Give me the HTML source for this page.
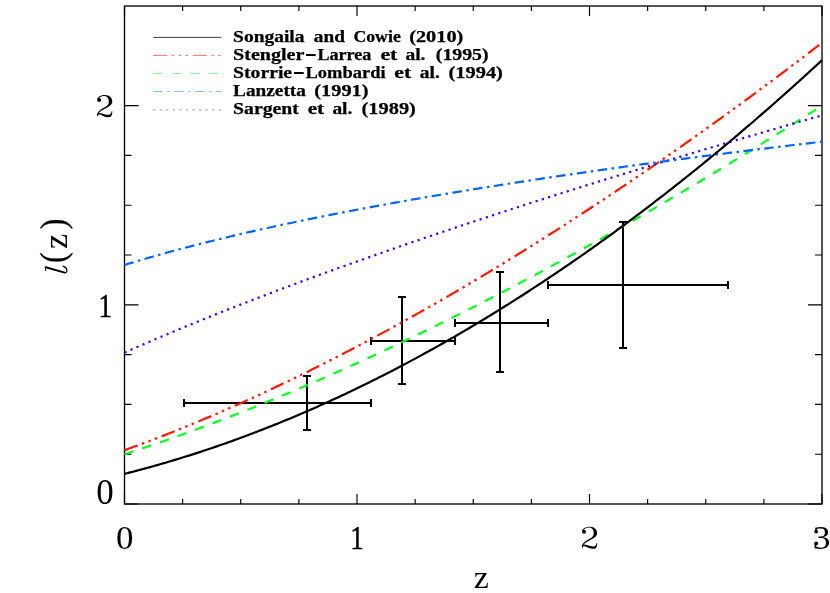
<!DOCTYPE html>
<html><head><meta charset="utf-8"><title>l(z)</title>
<style>html,body{margin:0;padding:0;background:#fff;}body{width:830px;height:593px;position:relative;overflow:hidden;font-family:"Liberation Serif",serif;}</style>
</head><body>
<svg width="830" height="593" viewBox="0 0 830 593" style="position:absolute;left:0;top:0;will-change:transform">
<rect width="830" height="593" fill="#fff"/>
<g stroke="#000" stroke-width="1.15" fill="none">
<path d="M124.50 504.00v-10.0 M124.50 6.00v10.0"/>
<path d="M182.62 504.00v-5.0 M182.62 6.00v5.0"/>
<path d="M240.75 504.00v-5.0 M240.75 6.00v5.0"/>
<path d="M298.88 504.00v-5.0 M298.88 6.00v5.0"/>
<path d="M357.00 504.00v-10.0 M357.00 6.00v10.0"/>
<path d="M415.12 504.00v-5.0 M415.12 6.00v5.0"/>
<path d="M473.25 504.00v-5.0 M473.25 6.00v5.0"/>
<path d="M531.38 504.00v-5.0 M531.38 6.00v5.0"/>
<path d="M589.50 504.00v-10.0 M589.50 6.00v10.0"/>
<path d="M647.62 504.00v-5.0 M647.62 6.00v5.0"/>
<path d="M705.75 504.00v-5.0 M705.75 6.00v5.0"/>
<path d="M763.88 504.00v-5.0 M763.88 6.00v5.0"/>
<path d="M822.00 504.00v-10.0 M822.00 6.00v10.0"/>
<path d="M124.50 504.00h14.0 M822.00 504.00h-14.0"/>
<path d="M124.50 454.20h7.0 M822.00 454.20h-7.0"/>
<path d="M124.50 404.40h7.0 M822.00 404.40h-7.0"/>
<path d="M124.50 354.60h7.0 M822.00 354.60h-7.0"/>
<path d="M124.50 304.80h14.0 M822.00 304.80h-14.0"/>
<path d="M124.50 255.00h7.0 M822.00 255.00h-7.0"/>
<path d="M124.50 205.20h7.0 M822.00 205.20h-7.0"/>
<path d="M124.50 155.40h7.0 M822.00 155.40h-7.0"/>
<path d="M124.50 105.60h14.0 M822.00 105.60h-14.0"/>
</g>
<rect x="124.50" y="6.00" width="697.50" height="498.00" fill="none" stroke="#000" stroke-width="1.33"/>
<g stroke="#000" stroke-width="2" fill="none">
<path d="M184.0 403.0H371.0 M307.0 376.0V430.0 M184.0 399.0v8 M371.0 399.0v8 M303.0 376.0h8 M303.0 430.0h8"/>
<path d="M371.0 341.0H455.0 M402.0 297.0V384.0 M371.0 337.0v8 M455.0 337.0v8 M398.0 297.0h8 M398.0 384.0h8"/>
<path d="M455.0 323.0H548.0 M500.0 272.0V372.0 M455.0 319.0v8 M548.0 319.0v8 M496.0 272.0h8 M496.0 372.0h8"/>
<path d="M548.0 285.0H728.0 M623.0 222.0V348.0 M548.0 281.0v8 M728.0 281.0v8 M619.0 222.0h8 M619.0 348.0h8"/>
</g>
<g fill="none" stroke-width="2.2">
<polyline stroke="#ff1800" stroke-dasharray="14 4.5 2.5 4.4 2.5 4.4 2.5 4.87" points="124.50,450.22 126.83,449.38 129.15,448.54 131.47,447.69 133.80,446.84 136.12,445.99 138.45,445.13 140.78,444.27 143.10,443.40 145.43,442.53 147.75,441.65 150.07,440.77 152.40,439.89 154.72,439.00 157.05,438.10 159.38,437.21 161.70,436.30 164.03,435.40 166.35,434.49 168.68,433.57 171.00,432.65 173.32,431.73 175.65,430.80 177.97,429.87 180.30,428.93 182.62,427.99 184.95,427.05 187.28,426.10 189.60,425.15 191.93,424.19 194.25,423.23 196.57,422.26 198.90,421.29 201.23,420.32 203.55,419.34 205.88,418.36 208.20,417.38 210.52,416.39 212.85,415.39 215.18,414.40 217.50,413.40 219.82,412.39 222.15,411.38 224.48,410.37 226.80,409.35 229.12,408.33 231.45,407.31 233.77,406.28 236.10,405.25 238.43,404.21 240.75,403.17 243.07,402.13 245.40,401.08 247.73,400.03 250.05,398.97 252.38,397.91 254.70,396.85 257.02,395.78 259.35,394.71 261.67,393.64 264.00,392.56 266.32,391.48 268.65,390.39 270.98,389.31 273.30,388.21 275.62,387.12 277.95,386.02 280.27,384.91 282.60,383.81 284.92,382.70 287.25,381.58 289.57,380.46 291.90,379.34 294.23,378.22 296.55,377.09 298.88,375.96 301.20,374.82 303.52,373.68 305.85,372.54 308.17,371.39 310.50,370.24 312.83,369.09 315.15,367.93 317.48,366.77 319.80,365.60 322.12,364.44 324.45,363.27 326.77,362.09 329.10,360.91 331.42,359.73 333.75,358.55 336.08,357.36 338.40,356.17 340.73,354.97 343.05,353.77 345.38,352.57 347.70,351.37 350.02,350.16 352.35,348.95 354.67,347.73 357.00,346.51 359.33,345.29 361.65,344.06 363.98,342.83 366.30,341.60 368.62,340.37 370.95,339.13 373.27,337.89 375.60,336.64 377.93,335.39 380.25,334.14 382.57,332.88 384.90,331.63 387.22,330.36 389.55,329.10 391.87,327.83 394.20,326.56 396.52,325.28 398.85,324.00 401.18,322.72 403.50,321.44 405.82,320.15 408.15,318.86 410.47,317.57 412.80,316.27 415.12,314.97 417.45,313.66 419.78,312.36 422.10,311.05 424.43,309.73 426.75,308.42 429.07,307.10 431.40,305.77 433.73,304.45 436.05,303.12 438.38,301.79 440.70,300.45 443.03,299.11 445.35,297.77 447.68,296.43 450.00,295.08 452.32,293.73 454.65,292.38 456.97,291.02 459.30,289.66 461.62,288.29 463.95,286.93 466.28,285.56 468.60,284.19 470.93,282.81 473.25,281.43 475.57,280.05 477.90,278.67 480.22,277.28 482.55,275.89 484.88,274.50 487.20,273.10 489.53,271.70 491.85,270.30 494.18,268.89 496.50,267.48 498.83,266.07 501.15,264.66 503.47,263.24 505.80,261.82 508.12,260.40 510.45,258.97 512.78,257.54 515.10,256.11 517.42,254.67 519.75,253.23 522.08,251.79 524.40,250.35 526.72,248.90 529.05,247.45 531.38,246.00 533.70,244.54 536.03,243.09 538.35,241.62 540.67,240.16 543.00,238.69 545.33,237.22 547.65,235.75 549.97,234.27 552.30,232.80 554.62,231.31 556.95,229.83 559.28,228.34 561.60,226.85 563.92,225.36 566.25,223.86 568.58,222.36 570.90,220.86 573.22,219.36 575.55,217.85 577.88,216.34 580.20,214.83 582.53,213.31 584.85,211.79 587.17,210.27 589.50,208.75 591.83,207.22 594.15,205.69 596.47,204.16 598.80,202.63 601.12,201.09 603.45,199.55 605.77,198.00 608.10,196.46 610.42,194.91 612.75,193.36 615.08,191.80 617.40,190.24 619.72,188.68 622.05,187.12 624.38,185.55 626.70,183.99 629.03,182.42 631.35,180.84 633.67,179.27 636.00,177.69 638.32,176.10 640.65,174.52 642.98,172.93 645.30,171.34 647.62,169.75 649.95,168.15 652.27,166.56 654.60,164.95 656.93,163.35 659.25,161.75 661.58,160.14 663.90,158.52 666.23,156.91 668.55,155.29 670.88,153.67 673.20,152.05 675.52,150.43 677.85,148.80 680.18,147.17 682.50,145.54 684.83,143.90 687.15,142.26 689.48,140.62 691.80,138.98 694.13,137.33 696.45,135.68 698.77,134.03 701.10,132.38 703.43,130.72 705.75,129.06 708.07,127.40 710.40,125.74 712.73,124.07 715.05,122.40 717.37,120.73 719.70,119.05 722.02,117.38 724.35,115.70 726.67,114.01 729.00,112.33 731.32,110.64 733.65,108.95 735.98,107.26 738.30,105.56 740.62,103.86 742.95,102.16 745.27,100.46 747.60,98.76 749.92,97.05 752.25,95.34 754.57,93.62 756.90,91.91 759.23,90.19 761.55,88.47 763.88,86.74 766.20,85.02 768.52,83.29 770.85,81.56 773.18,79.83 775.50,78.09 777.83,76.35 780.15,74.61 782.48,72.87 784.80,71.12 787.12,69.37 789.45,67.62 791.77,65.87 794.10,64.11 796.43,62.35 798.75,60.59 801.08,58.83 803.40,57.06 805.73,55.29 808.05,53.52 810.38,51.75 812.70,49.97 815.03,48.20 817.35,46.41 819.68,44.63 822.00,42.85"/>
<polyline stroke="#00ff20" stroke-dasharray="9.4 9.27" points="124.50,454.20 126.83,453.45 129.15,452.70 131.47,451.94 133.80,451.18 136.12,450.42 138.45,449.65 140.78,448.88 143.10,448.11 145.43,447.33 147.75,446.55 150.07,445.76 152.40,444.97 154.72,444.18 157.05,443.38 159.38,442.58 161.70,441.78 164.03,440.98 166.35,440.17 168.68,439.35 171.00,438.54 173.32,437.72 175.65,436.89 177.97,436.07 180.30,435.24 182.62,434.40 184.95,433.57 187.28,432.73 189.60,431.88 191.93,431.04 194.25,430.19 196.57,429.33 198.90,428.48 201.23,427.62 203.55,426.75 205.88,425.89 208.20,425.02 210.52,424.14 212.85,423.27 215.18,422.39 217.50,421.51 219.82,420.62 222.15,419.73 224.48,418.84 226.80,417.95 229.12,417.05 231.45,416.15 233.77,415.24 236.10,414.34 238.43,413.42 240.75,412.51 243.07,411.60 245.40,410.68 247.73,409.75 250.05,408.83 252.38,407.90 254.70,406.97 257.02,406.03 259.35,405.10 261.67,404.16 264.00,403.21 266.32,402.27 268.65,401.32 270.98,400.36 273.30,399.41 275.62,398.45 277.95,397.49 280.27,396.53 282.60,395.56 284.92,394.59 287.25,393.62 289.57,392.64 291.90,391.66 294.23,390.68 296.55,389.70 298.88,388.71 301.20,387.72 303.52,386.73 305.85,385.73 308.17,384.74 310.50,383.74 312.83,382.73 315.15,381.73 317.48,380.72 319.80,379.70 322.12,378.69 324.45,377.67 326.77,376.65 329.10,375.63 331.42,374.60 333.75,373.58 336.08,372.54 338.40,371.51 340.73,370.47 343.05,369.44 345.38,368.39 347.70,367.35 350.02,366.30 352.35,365.25 354.67,364.20 357.00,363.14 359.33,362.09 361.65,361.03 363.98,359.96 366.30,358.90 368.62,357.83 370.95,356.76 373.27,355.69 375.60,354.61 377.93,353.53 380.25,352.45 382.57,351.37 384.90,350.28 387.22,349.19 389.55,348.10 391.87,347.00 394.20,345.91 396.52,344.81 398.85,343.71 401.18,342.60 403.50,341.50 405.82,340.39 408.15,339.28 410.47,338.16 412.80,337.04 415.12,335.93 417.45,334.80 419.78,333.68 422.10,332.55 424.43,331.42 426.75,330.29 429.07,329.16 431.40,328.02 433.73,326.88 436.05,325.74 438.38,324.60 440.70,323.45 443.03,322.30 445.35,321.15 447.68,320.00 450.00,318.84 452.32,317.68 454.65,316.52 456.97,315.36 459.30,314.19 461.62,313.02 463.95,311.85 466.28,310.68 468.60,309.51 470.93,308.33 473.25,307.15 475.57,305.97 477.90,304.78 480.22,303.59 482.55,302.40 484.88,301.21 487.20,300.02 489.53,298.82 491.85,297.62 494.18,296.42 496.50,295.22 498.83,294.01 501.15,292.81 503.47,291.60 505.80,290.38 508.12,289.17 510.45,287.95 512.78,286.73 515.10,285.51 517.42,284.29 519.75,283.06 522.08,281.83 524.40,280.60 526.72,279.37 529.05,278.13 531.38,276.89 533.70,275.65 536.03,274.41 538.35,273.17 540.67,271.92 543.00,270.67 545.33,269.42 547.65,268.17 549.97,266.91 552.30,265.65 554.62,264.39 556.95,263.13 559.28,261.87 561.60,260.60 563.92,259.33 566.25,258.06 568.58,256.79 570.90,255.51 573.22,254.24 575.55,252.96 577.88,251.67 580.20,250.39 582.53,249.10 584.85,247.81 587.17,246.52 589.50,245.23 591.83,243.94 594.15,242.64 596.47,241.34 598.80,240.04 601.12,238.74 603.45,237.43 605.77,236.12 608.10,234.81 610.42,233.50 612.75,232.19 615.08,230.87 617.40,229.55 619.72,228.23 622.05,226.91 624.38,225.58 626.70,224.26 629.03,222.93 631.35,221.60 633.67,220.26 636.00,218.93 638.32,217.59 640.65,216.25 642.98,214.91 645.30,213.57 647.62,212.22 649.95,210.87 652.27,209.52 654.60,208.17 656.93,206.82 659.25,205.46 661.58,204.10 663.90,202.74 666.23,201.38 668.55,200.02 670.88,198.65 673.20,197.28 675.52,195.91 677.85,194.54 680.18,193.17 682.50,191.79 684.83,190.41 687.15,189.03 689.48,187.65 691.80,186.26 694.13,184.88 696.45,183.49 698.77,182.10 701.10,180.71 703.43,179.31 705.75,177.91 708.07,176.52 710.40,175.12 712.73,173.71 715.05,172.31 717.37,170.90 719.70,169.49 722.02,168.08 724.35,166.67 726.67,165.26 729.00,163.84 731.32,162.42 733.65,161.00 735.98,159.58 738.30,158.16 740.62,156.73 742.95,155.30 745.27,153.87 747.60,152.44 749.92,151.00 752.25,149.57 754.57,148.13 756.90,146.69 759.23,145.25 761.55,143.81 763.88,142.36 766.20,140.91 768.52,139.46 770.85,138.01 773.18,136.56 775.50,135.10 777.83,133.65 780.15,132.19 782.48,130.73 784.80,129.26 787.12,127.80 789.45,126.33 791.77,124.86 794.10,123.39 796.43,121.92 798.75,120.45 801.08,118.97 803.40,117.49 805.73,116.01 808.05,114.53 810.38,113.05 812.70,111.56 815.03,110.07 817.35,108.58 819.68,107.09 822.00,105.60"/>
<polyline stroke="#4000e6" stroke-dasharray="2.2 4.34" points="124.50,352.61 126.83,351.58 129.15,350.56 131.47,349.53 133.80,348.52 136.12,347.50 138.45,346.49 140.78,345.48 143.10,344.47 145.43,343.47 147.75,342.47 150.07,341.47 152.40,340.48 154.72,339.49 157.05,338.50 159.38,337.51 161.70,336.53 164.03,335.55 166.35,334.57 168.68,333.60 171.00,332.63 173.32,331.66 175.65,330.69 177.97,329.72 180.30,328.76 182.62,327.80 184.95,326.84 187.28,325.89 189.60,324.94 191.93,323.99 194.25,323.04 196.57,322.09 198.90,321.15 201.23,320.21 203.55,319.27 205.88,318.34 208.20,317.40 210.52,316.47 212.85,315.54 215.18,314.61 217.50,313.69 219.82,312.76 222.15,311.84 224.48,310.92 226.80,310.01 229.12,309.09 231.45,308.18 233.77,307.27 236.10,306.36 238.43,305.45 240.75,304.54 243.07,303.64 245.40,302.74 247.73,301.84 250.05,300.94 252.38,300.05 254.70,299.15 257.02,298.26 259.35,297.37 261.67,296.48 264.00,295.60 266.32,294.71 268.65,293.83 270.98,292.95 273.30,292.07 275.62,291.19 277.95,290.31 280.27,289.44 282.60,288.57 284.92,287.70 287.25,286.83 289.57,285.96 291.90,285.09 294.23,284.23 296.55,283.36 298.88,282.50 301.20,281.64 303.52,280.78 305.85,279.93 308.17,279.07 310.50,278.22 312.83,277.37 315.15,276.52 317.48,275.67 319.80,274.82 322.12,273.97 324.45,273.13 326.77,272.28 329.10,271.44 331.42,270.60 333.75,269.76 336.08,268.93 338.40,268.09 340.73,267.25 343.05,266.42 345.38,265.59 347.70,264.76 350.02,263.93 352.35,263.10 354.67,262.27 357.00,261.45 359.33,260.62 361.65,259.80 363.98,258.98 366.30,258.16 368.62,257.34 370.95,256.52 373.27,255.71 375.60,254.89 377.93,254.08 380.25,253.27 382.57,252.46 384.90,251.65 387.22,250.84 389.55,250.03 391.87,249.22 394.20,248.42 396.52,247.61 398.85,246.81 401.18,246.01 403.50,245.21 405.82,244.41 408.15,243.61 410.47,242.81 412.80,242.02 415.12,241.22 417.45,240.43 419.78,239.64 422.10,238.85 424.43,238.06 426.75,237.27 429.07,236.48 431.40,235.69 433.73,234.91 436.05,234.12 438.38,233.34 440.70,232.55 443.03,231.77 445.35,230.99 447.68,230.21 450.00,229.43 452.32,228.66 454.65,227.88 456.97,227.10 459.30,226.33 461.62,225.56 463.95,224.78 466.28,224.01 468.60,223.24 470.93,222.47 473.25,221.71 475.57,220.94 477.90,220.17 480.22,219.41 482.55,218.64 484.88,217.88 487.20,217.12 489.53,216.35 491.85,215.59 494.18,214.83 496.50,214.08 498.83,213.32 501.15,212.56 503.47,211.80 505.80,211.05 508.12,210.30 510.45,209.54 512.78,208.79 515.10,208.04 517.42,207.29 519.75,206.54 522.08,205.79 524.40,205.04 526.72,204.30 529.05,203.55 531.38,202.80 533.70,202.06 536.03,201.32 538.35,200.57 540.67,199.83 543.00,199.09 545.33,198.35 547.65,197.61 549.97,196.87 552.30,196.14 554.62,195.40 556.95,194.66 559.28,193.93 561.60,193.19 563.92,192.46 566.25,191.73 568.58,191.00 570.90,190.26 573.22,189.53 575.55,188.81 577.88,188.08 580.20,187.35 582.53,186.62 584.85,185.90 587.17,185.17 589.50,184.45 591.83,183.72 594.15,183.00 596.47,182.28 598.80,181.55 601.12,180.83 603.45,180.11 605.77,179.39 608.10,178.68 610.42,177.96 612.75,177.24 615.08,176.52 617.40,175.81 619.72,175.09 622.05,174.38 624.38,173.67 626.70,172.95 629.03,172.24 631.35,171.53 633.67,170.82 636.00,170.11 638.32,169.40 640.65,168.69 642.98,167.98 645.30,167.28 647.62,166.57 649.95,165.86 652.27,165.16 654.60,164.46 656.93,163.75 659.25,163.05 661.58,162.35 663.90,161.64 666.23,160.94 668.55,160.24 670.88,159.54 673.20,158.85 675.52,158.15 677.85,157.45 680.18,156.75 682.50,156.06 684.83,155.36 687.15,154.67 689.48,153.97 691.80,153.28 694.13,152.59 696.45,151.89 698.77,151.20 701.10,150.51 703.43,149.82 705.75,149.13 708.07,148.44 710.40,147.75 712.73,147.06 715.05,146.38 717.37,145.69 719.70,145.00 722.02,144.32 724.35,143.63 726.67,142.95 729.00,142.27 731.32,141.58 733.65,140.90 735.98,140.22 738.30,139.54 740.62,138.86 742.95,138.18 745.27,137.50 747.60,136.82 749.92,136.14 752.25,135.46 754.57,134.79 756.90,134.11 759.23,133.43 761.55,132.76 763.88,132.08 766.20,131.41 768.52,130.74 770.85,130.06 773.18,129.39 775.50,128.72 777.83,128.05 780.15,127.38 782.48,126.71 784.80,126.04 787.12,125.37 789.45,124.70 791.77,124.03 794.10,123.37 796.43,122.70 798.75,122.03 801.08,121.37 803.40,120.70 805.73,120.04 808.05,119.37 810.38,118.71 812.70,118.05 815.03,117.38 817.35,116.72 819.68,116.06 822.00,115.40"/>
<polyline stroke="#0064ff" stroke-dasharray="9.5 4.5 2.5 4.5" points="124.50,264.96 126.83,264.25 129.15,263.54 131.47,262.83 133.80,262.13 136.12,261.44 138.45,260.74 140.78,260.06 143.10,259.38 145.43,258.70 147.75,258.03 150.07,257.36 152.40,256.69 154.72,256.03 157.05,255.38 159.38,254.72 161.70,254.08 164.03,253.43 166.35,252.79 168.68,252.15 171.00,251.52 173.32,250.89 175.65,250.27 177.97,249.64 180.30,249.03 182.62,248.41 184.95,247.80 187.28,247.19 189.60,246.59 191.93,245.98 194.25,245.39 196.57,244.79 198.90,244.20 201.23,243.61 203.55,243.02 205.88,242.44 208.20,241.86 210.52,241.28 212.85,240.71 215.18,240.14 217.50,239.57 219.82,239.01 222.15,238.44 224.48,237.88 226.80,237.33 229.12,236.77 231.45,236.22 233.77,235.67 236.10,235.13 238.43,234.58 240.75,234.04 243.07,233.50 245.40,232.97 247.73,232.43 250.05,231.90 252.38,231.37 254.70,230.85 257.02,230.32 259.35,229.80 261.67,229.28 264.00,228.76 266.32,228.25 268.65,227.74 270.98,227.22 273.30,226.72 275.62,226.21 277.95,225.71 280.27,225.20 282.60,224.70 284.92,224.21 287.25,223.71 289.57,223.22 291.90,222.73 294.23,222.24 296.55,221.75 298.88,221.26 301.20,220.78 303.52,220.30 305.85,219.82 308.17,219.34 310.50,218.86 312.83,218.39 315.15,217.92 317.48,217.45 319.80,216.98 322.12,216.51 324.45,216.05 326.77,215.58 329.10,215.12 331.42,214.66 333.75,214.20 336.08,213.74 338.40,213.29 340.73,212.84 343.05,212.38 345.38,211.93 347.70,211.49 350.02,211.04 352.35,210.59 354.67,210.15 357.00,209.71 359.33,209.27 361.65,208.83 363.98,208.39 366.30,207.95 368.62,207.52 370.95,207.09 373.27,206.65 375.60,206.22 377.93,205.80 380.25,205.37 382.57,204.94 384.90,204.52 387.22,204.09 389.55,203.67 391.87,203.25 394.20,202.83 396.52,202.42 398.85,202.00 401.18,201.58 403.50,201.17 405.82,200.76 408.15,200.35 410.47,199.94 412.80,199.53 415.12,199.12 417.45,198.72 419.78,198.31 422.10,197.91 424.43,197.51 426.75,197.11 429.07,196.71 431.40,196.31 433.73,195.91 436.05,195.51 438.38,195.12 440.70,194.73 443.03,194.33 445.35,193.94 447.68,193.55 450.00,193.16 452.32,192.77 454.65,192.39 456.97,192.00 459.30,191.62 461.62,191.23 463.95,190.85 466.28,190.47 468.60,190.09 470.93,189.71 473.25,189.33 475.57,188.95 477.90,188.58 480.22,188.20 482.55,187.83 484.88,187.46 487.20,187.09 489.53,186.71 491.85,186.34 494.18,185.98 496.50,185.61 498.83,185.24 501.15,184.87 503.47,184.51 505.80,184.15 508.12,183.78 510.45,183.42 512.78,183.06 515.10,182.70 517.42,182.34 519.75,181.98 522.08,181.62 524.40,181.27 526.72,180.91 529.05,180.56 531.38,180.20 533.70,179.85 536.03,179.50 538.35,179.15 540.67,178.80 543.00,178.45 545.33,178.10 547.65,177.75 549.97,177.41 552.30,177.06 554.62,176.72 556.95,176.37 559.28,176.03 561.60,175.69 563.92,175.35 566.25,175.00 568.58,174.66 570.90,174.33 573.22,173.99 575.55,173.65 577.88,173.31 580.20,172.98 582.53,172.64 584.85,172.31 587.17,171.97 589.50,171.64 591.83,171.31 594.15,170.98 596.47,170.65 598.80,170.32 601.12,169.99 603.45,169.66 605.77,169.33 608.10,169.01 610.42,168.68 612.75,168.36 615.08,168.03 617.40,167.71 619.72,167.38 622.05,167.06 624.38,166.74 626.70,166.42 629.03,166.10 631.35,165.78 633.67,165.46 636.00,165.14 638.32,164.83 640.65,164.51 642.98,164.19 645.30,163.88 647.62,163.56 649.95,163.25 652.27,162.94 654.60,162.62 656.93,162.31 659.25,162.00 661.58,161.69 663.90,161.38 666.23,161.07 668.55,160.76 670.88,160.45 673.20,160.15 675.52,159.84 677.85,159.53 680.18,159.23 682.50,158.92 684.83,158.62 687.15,158.32 689.48,158.01 691.80,157.71 694.13,157.41 696.45,157.11 698.77,156.81 701.10,156.51 703.43,156.21 705.75,155.91 708.07,155.61 710.40,155.31 712.73,155.02 715.05,154.72 717.37,154.43 719.70,154.13 722.02,153.84 724.35,153.54 726.67,153.25 729.00,152.96 731.32,152.66 733.65,152.37 735.98,152.08 738.30,151.79 740.62,151.50 742.95,151.21 745.27,150.92 747.60,150.63 749.92,150.35 752.25,150.06 754.57,149.77 756.90,149.49 759.23,149.20 761.55,148.92 763.88,148.63 766.20,148.35 768.52,148.06 770.85,147.78 773.18,147.50 775.50,147.22 777.83,146.93 780.15,146.65 782.48,146.37 784.80,146.09 787.12,145.81 789.45,145.53 791.77,145.26 794.10,144.98 796.43,144.70 798.75,144.42 801.08,144.15 803.40,143.87 805.73,143.60 808.05,143.32 810.38,143.05 812.70,142.77 815.03,142.50 817.35,142.23 819.68,141.96 822.00,141.68"/>
<polyline stroke="#000" points="124.50,473.86 126.83,473.27 129.15,472.67 131.47,472.08 133.80,471.47 136.12,470.86 138.45,470.25 140.78,469.63 143.10,469.00 145.43,468.37 147.75,467.73 150.07,467.09 152.40,466.44 154.72,465.79 157.05,465.13 159.38,464.47 161.70,463.80 164.03,463.12 166.35,462.44 168.68,461.75 171.00,461.06 173.32,460.37 175.65,459.66 177.97,458.96 180.30,458.24 182.62,457.52 184.95,456.80 187.28,456.07 189.60,455.34 191.93,454.60 194.25,453.85 196.57,453.10 198.90,452.34 201.23,451.58 203.55,450.81 205.88,450.04 208.20,449.26 210.52,448.48 212.85,447.69 215.18,446.90 217.50,446.10 219.82,445.29 222.15,444.48 224.48,443.67 226.80,442.84 229.12,442.02 231.45,441.19 233.77,440.35 236.10,439.51 238.43,438.66 240.75,437.80 243.07,436.95 245.40,436.08 247.73,435.21 250.05,434.34 252.38,433.46 254.70,432.57 257.02,431.68 259.35,430.78 261.67,429.88 264.00,428.97 266.32,428.06 268.65,427.14 270.98,426.22 273.30,425.29 275.62,424.36 277.95,423.42 280.27,422.48 282.60,421.53 284.92,420.57 287.25,419.61 289.57,418.65 291.90,417.67 294.23,416.70 296.55,415.72 298.88,414.73 301.20,413.74 303.52,412.74 305.85,411.74 308.17,410.73 310.50,409.71 312.83,408.70 315.15,407.67 317.48,406.64 319.80,405.61 322.12,404.57 324.45,403.52 326.77,402.47 329.10,401.42 331.42,400.35 333.75,399.29 336.08,398.22 338.40,397.14 340.73,396.06 343.05,394.97 345.38,393.88 347.70,392.78 350.02,391.67 352.35,390.57 354.67,389.45 357.00,388.33 359.33,387.21 361.65,386.08 363.98,384.94 366.30,383.80 368.62,382.66 370.95,381.51 373.27,380.35 375.60,379.19 377.93,378.02 380.25,376.85 382.57,375.67 384.90,374.49 387.22,373.30 389.55,372.11 391.87,370.91 394.20,369.71 396.52,368.50 398.85,367.28 401.18,366.06 403.50,364.84 405.82,363.61 408.15,362.38 410.47,361.13 412.80,359.89 415.12,358.64 417.45,357.38 419.78,356.12 422.10,354.86 424.43,353.58 426.75,352.31 429.07,351.02 431.40,349.74 433.73,348.44 436.05,347.15 438.38,345.84 440.70,344.54 443.03,343.22 445.35,341.90 447.68,340.58 450.00,339.25 452.32,337.92 454.65,336.58 456.97,335.23 459.30,333.88 461.62,332.53 463.95,331.17 466.28,329.80 468.60,328.43 470.93,327.05 473.25,325.67 475.57,324.29 477.90,322.89 480.22,321.50 482.55,320.10 484.88,318.69 487.20,317.28 489.53,315.86 491.85,314.44 494.18,313.01 496.50,311.57 498.83,310.14 501.15,308.69 503.47,307.24 505.80,305.79 508.12,304.33 510.45,302.87 512.78,301.40 515.10,299.92 517.42,298.44 519.75,296.96 522.08,295.47 524.40,293.97 526.72,292.47 529.05,290.96 531.38,289.45 533.70,287.94 536.03,286.42 538.35,284.89 540.67,283.36 543.00,281.82 545.33,280.28 547.65,278.73 549.97,277.18 552.30,275.62 554.62,274.06 556.95,272.49 559.28,270.92 561.60,269.34 563.92,267.76 566.25,266.17 568.58,264.58 570.90,262.98 573.22,261.37 575.55,259.76 577.88,258.15 580.20,256.53 582.53,254.91 584.85,253.28 587.17,251.64 589.50,250.00 591.83,248.36 594.15,246.71 596.47,245.05 598.80,243.39 601.12,241.73 603.45,240.05 605.77,238.38 608.10,236.70 610.42,235.01 612.75,233.32 615.08,231.62 617.40,229.92 619.72,228.21 622.05,226.50 624.38,224.79 626.70,223.06 629.03,221.34 631.35,219.60 633.67,217.87 636.00,216.12 638.32,214.38 640.65,212.62 642.98,210.86 645.30,209.10 647.62,207.33 649.95,205.56 652.27,203.78 654.60,202.00 656.93,200.21 659.25,198.41 661.58,196.62 663.90,194.81 666.23,193.00 668.55,191.19 670.88,189.37 673.20,187.54 675.52,185.71 677.85,183.88 680.18,182.04 682.50,180.19 684.83,178.34 687.15,176.49 689.48,174.63 691.80,172.76 694.13,170.89 696.45,169.02 698.77,167.14 701.10,165.25 703.43,163.36 705.75,161.46 708.07,159.56 710.40,157.66 712.73,155.74 715.05,153.83 717.37,151.91 719.70,149.98 722.02,148.05 724.35,146.11 726.67,144.17 729.00,142.22 731.32,140.27 733.65,138.31 735.98,136.35 738.30,134.38 740.62,132.41 742.95,130.43 745.27,128.45 747.60,126.46 749.92,124.47 752.25,122.47 754.57,120.47 756.90,118.46 759.23,116.45 761.55,114.43 763.88,112.41 766.20,110.38 768.52,108.34 770.85,106.31 773.18,104.26 775.50,102.21 777.83,100.16 780.15,98.10 782.48,96.04 784.80,93.97 787.12,91.89 789.45,89.81 791.77,87.73 794.10,85.64 796.43,83.55 798.75,81.45 801.08,79.34 803.40,77.23 805.73,75.12 808.05,73.00 810.38,70.87 812.70,68.75 815.03,66.61 817.35,64.47 819.68,62.33 822.00,60.18"/>
</g>
<g fill="none" stroke-width="1" stroke-opacity="0.62">
<path stroke="#000" stroke-opacity="0.8" stroke-width="0.95" d="M153.2 37.4H221.3"/>
<path stroke="#ff1800" stroke-dasharray="14 4.5 2.5 4.4 2.5 4.4 2.5 4.87" d="M153.2 55.4H221.3"/>
<path stroke="#00ff20" stroke-opacity="0.56" stroke-dasharray="9.4 9.27" d="M153.2 73.4H221.3"/>
<path stroke="#0064ff" stroke-opacity="0.46" stroke-dasharray="9.5 4.5 2.5 4.5" d="M153.2 91.5H221.3"/>
<path stroke="#4000e6" stroke-opacity="0.5" stroke-dasharray="2.2 4.34" d="M153.2 109.9H221.3"/>
</g>
<g font-family="'Liberation Serif', serif" font-weight="bold" font-size="16.2" fill="#000" stroke="#000" stroke-width="0.25">
<text x="233.1" y="42.4" textLength="71.4" lengthAdjust="spacingAndGlyphs">Songaila</text>
<text x="313.8" y="42.4" textLength="31.1" lengthAdjust="spacingAndGlyphs">and</text>
<text x="353.4" y="42.4" textLength="47.4" lengthAdjust="spacingAndGlyphs">Cowie</text>
<text x="409.2" y="42.4" textLength="54.1" lengthAdjust="spacingAndGlyphs">(2010)</text>
<text x="233.1" y="60.3" textLength="71.3" lengthAdjust="spacingAndGlyphs">Stengler</text>
<text x="317.4" y="60.3" textLength="54.0" lengthAdjust="spacingAndGlyphs">Larrea</text>
<text x="380.4" y="60.3" textLength="17.0" lengthAdjust="spacingAndGlyphs">et</text>
<text x="405.4" y="60.3" textLength="20.1" lengthAdjust="spacingAndGlyphs">al.</text>
<text x="435.8" y="60.3" textLength="52.8" lengthAdjust="spacingAndGlyphs">(1995)</text>
<text x="233.1" y="78.3" textLength="59.0" lengthAdjust="spacingAndGlyphs">Storrie</text>
<text x="305.5" y="78.3" textLength="80.1" lengthAdjust="spacingAndGlyphs">Lombardi</text>
<text x="394.3" y="78.3" textLength="16.8" lengthAdjust="spacingAndGlyphs">et</text>
<text x="419.7" y="78.3" textLength="20.1" lengthAdjust="spacingAndGlyphs">al.</text>
<text x="448.6" y="78.3" textLength="54.3" lengthAdjust="spacingAndGlyphs">(1994)</text>
<text x="233.1" y="96.1" textLength="72.8" lengthAdjust="spacingAndGlyphs">Lanzetta</text>
<text x="314.3" y="96.1" textLength="54.2" lengthAdjust="spacingAndGlyphs">(1991)</text>
<text x="233.1" y="114.0" textLength="65.8" lengthAdjust="spacingAndGlyphs">Sargent</text>
<text x="307.7" y="114.0" textLength="16.5" lengthAdjust="spacingAndGlyphs">et</text>
<text x="332.4" y="114.0" textLength="20.0" lengthAdjust="spacingAndGlyphs">al.</text>
<text x="361.6" y="114.0" textLength="54.3" lengthAdjust="spacingAndGlyphs">(1989)</text>
</g>
<path d="M306 55H315.6M294 73H303.7" stroke="#000" stroke-width="1.8" fill="none"/>
<g font-family="'Liberation Serif', serif" font-size="33" fill="#000">
<text transform="translate(124.7,549.1) scale(1.060,1.020)" text-anchor="middle">0</text>
<text transform="translate(357.0,549.1) scale(0.820,1.000)" text-anchor="middle" stroke="#000" stroke-width="0.5">1</text>
<g transform="translate(581.70,548.70) scale(0.05397) translate(-105,-495)"><circle cx="148" cy="180" r="37"/><path d="M112 165C120 115 190 86 255 86C340 86 392 140 392 205C392 270 330 300 270 330C200 365 150 400 128 440L110 492L108 440C125 390 185 344 250 312C300 287 328 258 328 205C328 150 300 105 245 102C200 100 160 118 140 145Z"/><path d="M110 492L118 440C135 414 165 412 200 428C250 448 300 457 335 452C362 446 375 425 380 388L392 388C392 430 388 470 360 490C330 503 270 497 230 478C190 458 160 445 140 450C125 455 118 475 110 492Z"/></g>
<text transform="translate(821.6,549.2) scale(1.080,1.025)" text-anchor="middle">3</text>
<circle cx="816.2" cy="531.6" r="1.9"/><circle cx="816.2" cy="543.5" r="1.9"/>
<text transform="translate(113.7,504.0) scale(1.060,1.070)" text-anchor="end">0</text>
<text transform="translate(111.9,316.7) scale(0.820,1.000)" text-anchor="end" stroke="#000" stroke-width="0.5">1</text>
<g transform="translate(96.80,117.10) scale(0.05397) translate(-105,-495)"><circle cx="148" cy="180" r="37"/><path d="M112 165C120 115 190 86 255 86C340 86 392 140 392 205C392 270 330 300 270 330C200 365 150 400 128 440L110 492L108 440C125 390 185 344 250 312C300 287 328 258 328 205C328 150 300 105 245 102C200 100 160 118 140 145Z"/><path d="M110 492L118 440C135 414 165 412 200 428C250 448 300 457 335 452C362 446 375 425 380 388L392 388C392 430 388 470 360 490C330 503 270 497 230 478C190 458 160 445 140 450C125 455 118 475 110 492Z"/></g>
<text transform="translate(481.4,588.2) scale(1.030,0.930)" text-anchor="middle">z</text>
</g>
<g transform="translate(66.6,274.5) rotate(-90)" font-family="'Liberation Serif', serif" fill="#000" text-anchor="middle">
<g fill="none" stroke="#000" stroke-linecap="round" stroke-linejoin="round"><path d="M7.2 -20.8L1.9 -1.9" stroke-width="2.0"/><path d="M1.9 -1.9C1.6 -0.2 2.8 0.4 4.2 0.3C6.0 0.1 7.6 -1.3 8.4 -3.5" stroke-width="1.2"/><path d="M3.9 -20.9L7.3 -21.3" stroke-width="1.0"/></g>
<text transform="translate(16.7,-1.7) scale(0.87,1)" font-size="36.6" stroke="#000" stroke-width="0.3">(</text>
<text x="33.1" y="0" font-size="34.3">z</text>
<text transform="translate(50.6,-1.7) scale(0.87,1)" font-size="36.6" stroke="#000" stroke-width="0.3">)</text>
</g>
</svg>
</body></html>
